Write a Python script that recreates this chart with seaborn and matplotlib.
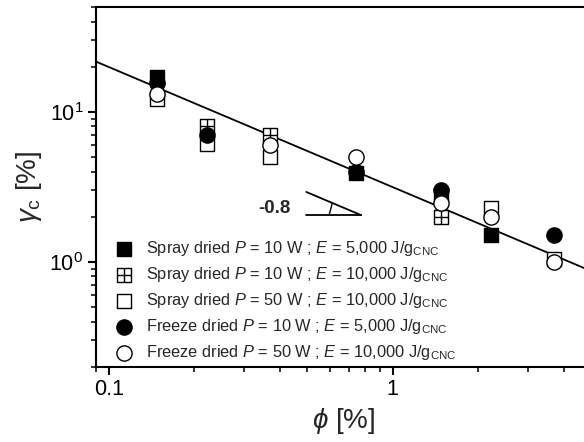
import numpy as np
import pandas as pd
import matplotlib
matplotlib.use("Agg")
import matplotlib.pyplot as plt
from matplotlib.path import Path
from matplotlib.ticker import LogLocator, FixedLocator, FuncFormatter, NullFormatter
import seaborn as sns

# Critical strain gamma_c versus CNC volume fraction phi
phi_sd_10w_5k = [0.148, 0.74, 1.48, 2.22]
gam_sd_10w_5k = [17.2, 3.9, 2.8, 1.5]

phi_sd_10w_10k = [0.222, 0.37, 1.48]
gam_sd_10w_10k = [8.0, 7.0, 2.0]

phi_sd_50w_10k = [0.148, 0.222, 0.37, 2.22, 3.7]
gam_sd_50w_10k = [12.2, 6.1, 5.0, 2.3, 1.05]

phi_fd_10w_5k = [0.148, 0.222, 0.74, 1.48, 3.7]
gam_fd_10w_5k = [15.5, 7.0, 4.0, 3.0, 1.5]

phi_fd_50w_10k = [0.148, 0.37, 0.74, 1.48, 2.22, 3.7]
gam_fd_50w_10k = [13.1, 6.0, 5.0, 2.45, 2.0, 1.0]

series_labels = [
    r"Spray dried $P$ = 10 W ; $E$ = 5,000 J/g$_{\mathrm{CNC}}$",
    r"Spray dried $P$ = 10 W ; $E$ = 10,000 J/g$_{\mathrm{CNC}}$",
    r"Spray dried $P$ = 50 W ; $E$ = 10,000 J/g$_{\mathrm{CNC}}$",
    r"Freeze dried $P$ = 10 W ; $E$ = 5,000 J/g$_{\mathrm{CNC}}$",
    r"Freeze dried $P$ = 50 W ; $E$ = 10,000 J/g$_{\mathrm{CNC}}$",
]

# power-law fit gamma_c = A * phi^n
fit_prefactor = 3.15
fit_exponent = -0.8
slope_label = "-0.8"

x_ticks = [0.1, 1]
x_tick_labels = ["0.1", "1"]

sns.set_theme(style="ticks")
plt.rcParams["font.family"] = ["Liberation Sans", "DejaVu Sans"]
plt.rcParams["mathtext.fontset"] = "custom"
plt.rcParams["mathtext.rm"] = "Liberation Sans"
plt.rcParams["mathtext.it"] = "Liberation Sans:italic"
plt.rcParams["mathtext.bf"] = "Liberation Sans:bold"

# square with a cross inside
crossed_square = Path(
    [(-1, -1), (1, -1), (1, 1), (-1, 1), (-1, -1), (0, -1), (0, 1), (-1, 0), (1, 0)],
    [Path.MOVETO, Path.LINETO, Path.LINETO, Path.LINETO, Path.CLOSEPOLY,
     Path.MOVETO, Path.LINETO, Path.MOVETO, Path.LINETO],
)

styles = [
    dict(marker="s", facecolor="black", s=90),
    dict(marker=crossed_square, facecolor="white", s=90),
    dict(marker="s", facecolor="white", s=90),
    dict(marker="o", facecolor="black", s=120),
    dict(marker="o", facecolor="white", s=120),
]
xs = [phi_sd_10w_5k, phi_sd_10w_10k, phi_sd_50w_10k, phi_fd_10w_5k, phi_fd_50w_10k]
ys = [gam_sd_10w_5k, gam_sd_10w_10k, gam_sd_50w_10k, gam_fd_10w_5k, gam_fd_50w_10k]

fig = plt.figure(figsize=(5.84, 4.42), dpi=100)
ax = fig.add_axes([96 / 584, 1 - 366.7 / 442, (591 - 96) / 584, (366.7 - 7) / 442])
ax.set_xscale("log")
ax.set_yscale("log")
xmin, xmax = 0.09, 5.0
ax.set_xlim(xmin, xmax)
ax.set_ylim(0.2, 50)

# fit line across the full x range
fit_x = np.array([xmin, xmax])
fit_df = pd.DataFrame({"phi": fit_x, "gamma": fit_prefactor * fit_x ** fit_exponent})
sns.lineplot(data=fit_df, x="phi", y="gamma", color="black", lw=1.3, ax=ax, zorder=1)

for x, y, st, lab in zip(xs, ys, styles, series_labels):
    df = pd.DataFrame({"phi": x, "gamma": y})
    sns.scatterplot(data=df, x="phi", y="gamma", marker=st["marker"], s=st["s"],
                    facecolor=st["facecolor"], edgecolor="black", linewidth=1.0,
                    label=lab, ax=ax, zorder=3)

# slope triangle
tx0, tx1, ty = 0.496, 0.773, 2.05
ax.plot([tx0, tx1], [ty, ty], color="black", lw=1.3)
ax.plot([tx0, tx1], [ty * (tx0 / tx1) ** fit_exponent, ty], color="black", lw=1.3)
ax.plot([0.597, 0.612], [ty, 2.45], color="black", lw=1.0)
ax.text(0.383, 2.28, slope_label, fontsize=13.5, fontweight="bold", ha="center", va="center")

ax.xaxis.set_major_locator(FixedLocator(x_ticks))
ax.xaxis.set_major_formatter(FuncFormatter(lambda v, p: dict(zip(x_ticks, x_tick_labels)).get(v, "")))
ax.xaxis.set_minor_locator(LogLocator(base=10, subs=np.arange(2, 10), numticks=20))
ax.xaxis.set_minor_formatter(NullFormatter())
ax.yaxis.set_major_locator(LogLocator(base=10, numticks=10))
ax.yaxis.set_minor_locator(LogLocator(base=10, subs=np.arange(2, 10), numticks=20))
ax.yaxis.set_minor_formatter(NullFormatter())

for sp in ax.spines.values():
    sp.set_linewidth(1.5)
    sp.set_color("black")
ax.tick_params(which="major", direction="out", length=6, width=1.5, labelsize=15.5,
               colors="black", pad=3, top=False, right=False)
ax.tick_params(which="minor", direction="out", length=3.5, width=1.3, top=False, right=False)

ax.set_xlabel(r"$\phi$ [%]", fontsize=20, labelpad=4)
ax.set_ylabel(r"$\gamma_{\mathrm{c}}$ [%]", fontsize=20, labelpad=4)

leg = ax.legend(loc="lower left", bbox_to_anchor=(0.02, -0.014), frameon=False,
                fontsize=11.8, handlelength=1.0, handletextpad=0.85,
                labelspacing=0.42, borderaxespad=0.2, scatterpoints=1)

fig.savefig("out.png", dpi=100)
